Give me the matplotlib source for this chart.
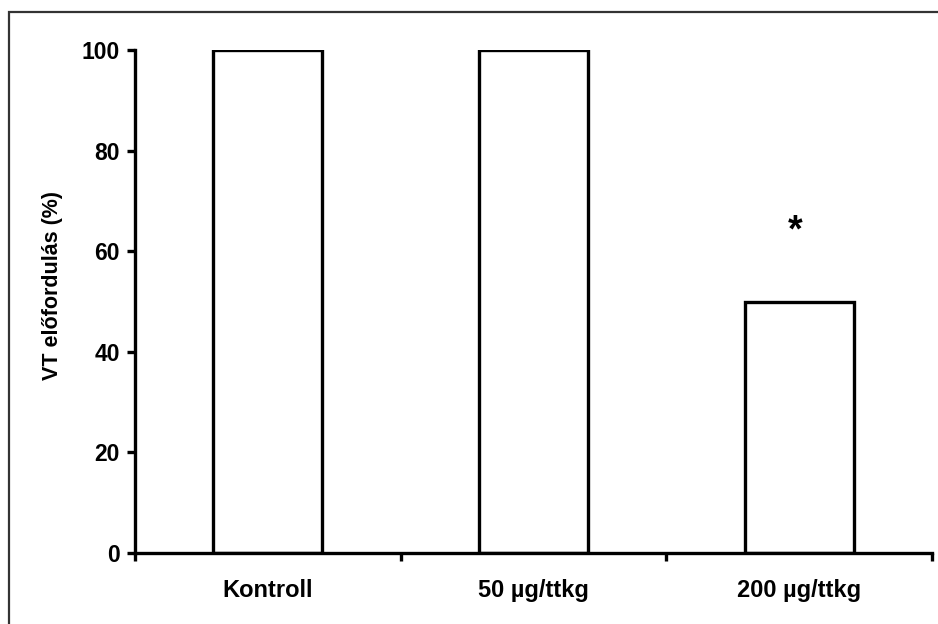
import matplotlib.pyplot as plt
from matplotlib.patches import Rectangle

plt.rcParams["font.family"] = ["Liberation Sans", "DejaVu Sans"]
plt.rcParams["font.weight"] = "bold"

groups = ["Kontroll", "50 µg/ttkg", "200 µg/ttkg"]
vt_incidence = [100, 100, 50]
significance = ["", "", "*"]
star_level = 64

fig = plt.figure(figsize=(9.38, 6.24), dpi=100)
ax = fig.add_axes([135 / 938, 1 - 553 / 624, (932 - 135) / 938, (553 - 50) / 624])

x = list(range(len(groups)))
ax.bar(x, vt_incidence, width=0.41, color="white", edgecolor="black", linewidth=2.4)

for xi, mark in zip(x, significance):
    if mark:
        ax.text(xi - 0.015, star_level, mark, ha="center", va="center",
                fontsize=27, fontweight="bold")

ax.set_xlim(-0.5, len(groups) - 0.5)
ax.set_ylim(0, 100)
ax.set_yticks(range(0, 101, 20))
ax.set_xticks([i - 0.5 for i in range(len(groups) + 1)], minor=False)
ax.set_xticklabels([""] * (len(groups) + 1))
ax.set_xticks(x, minor=True)
ax.set_xticklabels(groups, minor=True)
ax.tick_params(axis="x", which="minor", length=0, pad=19, labelsize=17)
ax.tick_params(axis="x", which="major", direction="out", length=6, width=2.4)
ax.tick_params(axis="y", direction="out", length=6, width=2.4, labelsize=16.5, pad=5)

for side in ("top", "right"):
    ax.spines[side].set_visible(False)
for side in ("left", "bottom"):
    ax.spines[side].set_linewidth(2.4)

ax.set_ylabel("VT előfordulás (%)", fontsize=15.5, fontweight="bold")
ax.yaxis.set_label_coords(-0.09, 0.531)

# outer frame, only its top and left edges fall inside the canvas
fig.patches.append(Rectangle((9 / 938, -0.05), 1.2, 1 - 12 / 624 + 0.05,
                             transform=fig.transFigure, fill=False,
                             edgecolor="#333333", linewidth=1.6))

fig.savefig("out.png", dpi=100)
